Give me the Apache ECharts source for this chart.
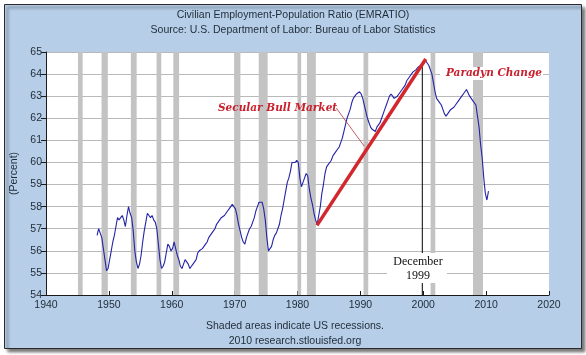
<!DOCTYPE html>
<html><head><meta charset="utf-8">
<script src="https://cdn.jsdelivr.net/npm/echarts@6/dist/echarts.min.js"></script>
<style>html,body{margin:0;padding:0;background:#fff}#c{width:586px;height:355px}</style>
</head><body><div id="c"></div>
<script>
// ---- data ----
const titleLines = ['Civilian Employment-Population Ratio (EMRATIO)', 'Source: U.S. Department of Labor: Bureau of Labor Statistics'];
const footLines = ['Shaded areas indicate US recessions.', '2010 research.stlouisfed.org'];
const yAxisName = '(Percent)';
const xTickYears = [1940, 1950, 1960, 1970, 1980, 1990, 2000, 2010, 2020];
const yTickValues = [54, 55, 56, 57, 58, 59, 60, 61, 62, 63, 64, 65];
// quarterly values, first quarter of 1948 onwards
const startYear = 1948;
const ratioQuarterly = [
  56.7, 57.0, 56.8, 56.6,  56.1, 55.6, 55.1, 55.2,  55.6, 56.0, 56.4, 56.7,  57.1, 57.5, 57.4, 57.5,
  57.6, 57.4, 57.1, 57.6,  58.0, 57.7, 57.5, 56.9,  56.0, 55.5, 55.2, 55.4,  55.8, 56.4, 56.9, 57.3,
  57.7, 57.6, 57.5, 57.6,  57.4, 57.3, 57.0, 56.3,  55.6, 55.2, 55.3, 55.5,  55.9, 56.3, 56.2, 56.0,
  56.1, 56.4, 56.1, 55.8,  55.6, 55.3, 55.2, 55.4,  55.6, 55.6, 55.4, 55.2,  55.3, 55.4, 55.5, 55.6,
  55.9, 56.0, 56.0, 56.1,  56.2, 56.3, 56.4, 56.6,  56.7, 56.8, 56.9, 57.0,  57.2, 57.3, 57.3, 57.5,
  57.5, 57.6, 57.7, 57.8,  57.9, 58.0, 58.1, 58.1,  57.9, 57.6, 57.2, 56.9,  56.6, 56.4, 56.3, 56.6,
  56.8, 57.0, 57.1, 57.3,  57.5, 57.8, 58.0, 58.2,  58.2, 58.2, 57.9, 57.4,  56.6, 56.0, 56.0, 56.2,
  56.5, 56.7, 56.8, 57.0,  57.2, 57.6, 57.9, 58.3,  58.7, 59.1, 59.3, 59.6,  60.0, 60.0, 60.0, 60.1,
  60.0, 59.3, 58.9, 59.1,  59.3, 59.5, 59.4, 58.8,  58.4, 58.1, 57.7, 57.4,  57.2, 57.6, 58.0, 58.6,
  59.0, 59.5, 59.8, 59.9,  60.0, 60.1, 60.3, 60.4,  60.5, 60.6, 60.7, 60.9,  61.1, 61.4, 61.7, 62.0,
  62.2, 62.4, 62.7, 62.9,  63.0, 63.1, 63.1, 63.2,  63.1, 62.9, 62.6, 62.3,  62.0, 61.8, 61.6, 61.5,
  61.5, 61.4, 61.6, 61.6,  61.8, 62.0, 62.2, 62.4,  62.6, 62.8, 63.0, 63.1,  63.0, 62.9, 62.9, 63.0,
  63.1, 63.2, 63.3, 63.4,  63.5, 63.7, 63.8, 63.9,  64.0, 64.1, 64.1, 64.2,  64.3, 64.3, 64.4, 64.4,
  64.5, 64.6, 64.5, 64.4,  64.4, 64.0, 63.6, 63.2,  62.9, 62.8, 62.7, 62.6,  62.4, 62.2, 62.1, 62.2,
  62.3, 62.4, 62.4, 62.5,  62.6, 62.6, 62.8, 62.9,  63.0, 63.1, 63.2, 63.3,  63.3, 63.0, 62.9, 62.8,
  62.8, 62.6, 62.1, 61.6,  60.8, 60.2, 59.3, 58.6,  58.3, 58.7
];
const recessionStarts = [1945.083, 1948.833, 1953.5, 1957.583, 1960.25, 1969.917, 1973.833, 1980.0, 1981.5, 1990.5, 2001.167, 2007.917];
const recessionEnds   = [1945.833, 1949.833, 1954.417, 1958.333, 1961.167, 1970.917, 1975.25, 1980.583, 1982.917, 1991.25, 2001.917, 2009.5];
// annotations
const bullYears = [1983.1, 2000.4];
const bullValues = [57.15, 64.68];
const bullLabel = 'Secular Bull Market';
const leaderYears = [1986.2, 1990.6];
const leaderValues = [62.45, 60.74];
const paradigmLabel = 'Paradyn Change';
const decemberYears = [1999.85, 1999.85];
const decemberValues = [54, 64.4];
const decemberLabel = ['December', '1999'];

// ---- chart ----
const sans = 'Liberation Sans';
const serif = 'DejaVu Serif';
const textDark = '#1f2b37';
const annRed = '#c8202c';

const seriesData = ratioQuarterly.map((v, i) => [startYear + (i + 0.5) / 4, v]);
const recessionAreas = recessionStarts.map((s, i) => [{ xAxis: s }, { xAxis: recessionEnds[i] }]);

const chart = echarts.init(document.getElementById('c'), null, { renderer: 'canvas' });
chart.setOption({
  animation: false,
  backgroundColor: '#ffffff',
  grid: { left: 46, right: 37, top: 52, bottom: 60, show: true, backgroundColor: '#ffffff', borderWidth: 0 },
  xAxis: {
    type: 'value', min: xTickYears[0], max: xTickYears[xTickYears.length - 1], interval: 10,
    axisLine: { lineStyle: { color: '#1a1a1a', width: 1 } },
    axisTick: { inside: true, length: 4, lineStyle: { color: '#1a1a1a' } },
    axisLabel: { fontFamily: sans, fontSize: 10.5, color: textDark, margin: 5, formatter: v => String(v) },
    splitLine: { show: false }
  },
  yAxis: {
    type: 'value', min: yTickValues[0], max: yTickValues[yTickValues.length - 1], interval: 1,
    name: yAxisName, nameLocation: 'middle', nameGap: 26, nameRotate: 90,
    nameTextStyle: { fontFamily: sans, fontSize: 10.5, color: textDark },
    axisLine: { show: true, lineStyle: { color: '#1a1a1a', width: 1 } },
    axisTick: { show: true, length: 5, lineStyle: { color: '#1a1a1a' } },
    axisLabel: { fontFamily: sans, fontSize: 10.5, color: textDark, margin: 4 },
    splitLine: { show: true, lineStyle: { color: '#b9b9b9', width: 1 } }
  },
  series: [
    {
      type: 'line', data: seriesData, showSymbol: false, symbol: 'none',
      lineStyle: { color: '#2323a8', width: 1.1 }, z: 3,
      markArea: { silent: true, itemStyle: { color: '#c3c3c3' }, data: recessionAreas }
    },
    {
      type: 'line', data: decemberYears.map((y, i) => [y, decemberValues[i]]), symbol: 'none',
      lineStyle: { color: '#000000', width: 1 }, z: 4
    },
    {
      type: 'line', data: leaderYears.map((y, i) => [y, leaderValues[i]]), symbol: 'none',
      lineStyle: { color: '#b8343c', width: 0.8 }, z: 4
    },
    {
      type: 'line', data: bullYears.map((y, i) => [y, bullValues[i]]), symbol: 'none',
      lineStyle: { color: '#d3272e', width: 3.5 }, z: 5
    }
  ],
  graphic: [
    { type: 'rect', z: -100, shape: { x: 4.5, y: 4.5, width: 577, height: 344 },
      style: { fill: '#b6cee7', stroke: '#2b2b2b', lineWidth: 1, shadowColor: 'rgba(0,0,0,0.55)', shadowBlur: 3, shadowOffsetX: 3, shadowOffsetY: 3 } },
    { type: 'text', z: 100, x: 293, y: 15, style: { text: titleLines[0], font: '10.5px "' + sans + '"', fill: textDark, textAlign: 'center', textVerticalAlign: 'middle' } },
    { type: 'text', z: 100, x: 293, y: 30, style: { text: titleLines[1], font: '10.5px "' + sans + '"', fill: textDark, textAlign: 'center', textVerticalAlign: 'middle' } },
    { type: 'text', z: 100, x: 295, y: 326, style: { text: footLines[0], font: '10.5px "' + sans + '"', fill: textDark, textAlign: 'center', textVerticalAlign: 'middle' } },
    { type: 'text', z: 100, x: 295, y: 341, style: { text: footLines[1], font: '10.5px "' + sans + '"', fill: textDark, textAlign: 'center', textVerticalAlign: 'middle' } },
    { type: 'text', z: 100, x: 218, y: 108, style: { text: bullLabel, font: 'italic bold 10.5px "' + serif + '"', fill: annRed, textAlign: 'left', textVerticalAlign: 'middle' } },
    { type: 'rect', z: 90, shape: { x: 440, y: 67, width: 103, height: 13 }, style: { fill: '#ffffff' } },
    { type: 'text', z: 100, x: 446, y: 73, style: { text: paradigmLabel, font: 'italic bold 10.5px "' + serif + '"', fill: annRed, textAlign: 'left', textVerticalAlign: 'middle' } },
    { type: 'rect', z: 90, shape: { x: 387, y: 253, width: 60, height: 30 }, style: { fill: '#ffffff' } },
    { type: 'text', z: 100, x: 418, y: 262, style: { text: decemberLabel[0], font: '12px "Liberation Serif"', fill: '#111111', textAlign: 'center', textVerticalAlign: 'middle' } },
    { type: 'text', z: 100, x: 418, y: 276, style: { text: decemberLabel[1], font: '12px "Liberation Serif"', fill: '#111111', textAlign: 'center', textVerticalAlign: 'middle' } }
  ]
});
</script>
</body></html>
